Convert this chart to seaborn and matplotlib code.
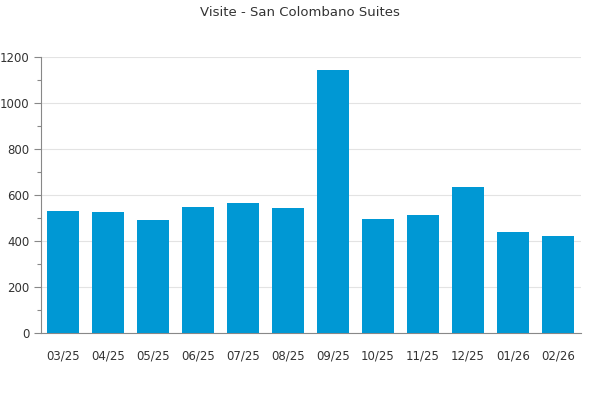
import matplotlib
matplotlib.use("Agg")
import matplotlib.pyplot as plt
import seaborn as sns
import pandas as pd
from matplotlib.ticker import MultipleLocator

months = ["03/25", "04/25", "05/25", "06/25", "07/25", "08/25",
          "09/25", "10/25", "11/25", "12/25", "01/26", "02/26"]
visits = [531, 527, 492, 549, 566, 544, 1145, 497, 514, 636, 440, 423]

df = pd.DataFrame({"month": months, "visits": visits})

sns.set_theme(style="white")
plt.rcParams['font.family'] = ['DejaVu Sans']

fig = plt.figure(figsize=(6, 4), dpi=100)
ax = fig.add_axes([0.0675, 0.1675, 0.9, 0.69])

sns.barplot(data=df, x="month", y="visits", color="#0098d4", saturation=1,
            width=0.69, linewidth=0, ax=ax, zorder=3)

ax.set_xlim(-0.5, 11.5)
ax.set_ylim(0, 1200)
ax.yaxis.set_major_locator(MultipleLocator(200))
ax.yaxis.set_minor_locator(MultipleLocator(100))
ax.grid(axis="y", which="major", color="#e3e3e3", linewidth=0.8, zorder=0)
ax.set_axisbelow(True)

for s in ["top", "right"]:
    ax.spines[s].set_visible(False)
for s in ["left", "bottom"]:
    ax.spines[s].set_color("#888888")
    ax.spines[s].set_linewidth(0.8)

ax.tick_params(axis="y", which="major", left=True, length=5, width=0.8,
               color="#888888", labelsize=8.5, labelcolor="#333333", pad=3)
ax.tick_params(axis="y", which="minor", left=True, length=3, width=0.8,
               color="#888888")
ax.tick_params(axis="x", bottom=False, labelsize=8.5, labelcolor="#333333", pad=6)

ax.set_xlabel("")
ax.set_ylabel("")
fig.suptitle("Visite - San Colombano Suites", y=0.985, fontsize=9.5, color="#333333")

fig.savefig("out.png", dpi=100)
